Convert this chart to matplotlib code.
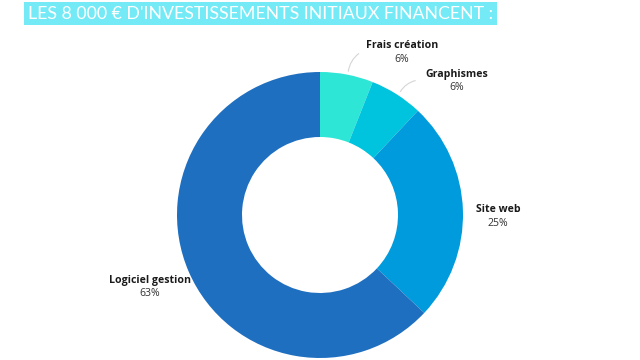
import matplotlib.pyplot as plt
from matplotlib.patches import Rectangle

plt.rcParams['font.family'] = ['Lato', 'DejaVu Sans']

# data
categories = ['Frais création', 'Graphismes', 'Site web', 'Logiciel gestion']
shares = [6, 6, 25, 63]
colors = ['#2ee6d6', '#00c4de', '#009bdc', '#1f6fc0']
title = "LES 8 000 € D'INVESTISSEMENTS INITIAUX FINANCENT :"

# label positions in pixels (x, y from top)
label_pos = [(402, 45), (457, 74), (498, 210), (150, 280)]
leaders = [((348, 74), (361, 52)), ((399, 94), (418, 80))]

fig = plt.figure(figsize=(6.4, 3.6), dpi=100, facecolor='white')
ax = fig.add_axes([0, 0, 1, 1])
ax.set_xlim(0, 640)
ax.set_ylim(0, 360)
ax.set_aspect('equal')
ax.axis('off')

# donut, clockwise from the top
ax.pie(shares, colors=colors, startangle=90, counterclock=False,
       center=(320, 360 - 215), radius=143,
       wedgeprops=dict(width=65, edgecolor='none'))
ax.set_xlim(0, 640)
ax.set_ylim(0, 360)

# title band
ax.add_patch(Rectangle((24, 360 - 25), 473, 23, facecolor='#74eaf6',
                       edgecolor='none', zorder=3))
ax.text(261, 360 - 14, title, color='white', fontsize=12.8, fontweight='normal',
        ha='center', va='center', zorder=4)

for (name, val), (x, y) in zip(zip(categories, shares), label_pos):
    ax.text(x, 360 - y, name, fontsize=7.6, fontweight='bold', color='#1a1a1a',
            ha='center', va='center', family='Open Sans')
    ax.text(x, 360 - y - 14, f'{val}%', fontsize=7.6, color='#333333',
            ha='center', va='center', family='Open Sans')

for (x0, y0), (x1, y1) in leaders:
    ax.annotate('', xy=(x1, 360 - y1), xytext=(x0, 360 - y0),
                arrowprops=dict(arrowstyle='-', color='#d5d5d5', lw=0.8,
                                connectionstyle='arc3,rad=-0.25'))

fig.savefig('out.png', dpi=100, facecolor='white')
